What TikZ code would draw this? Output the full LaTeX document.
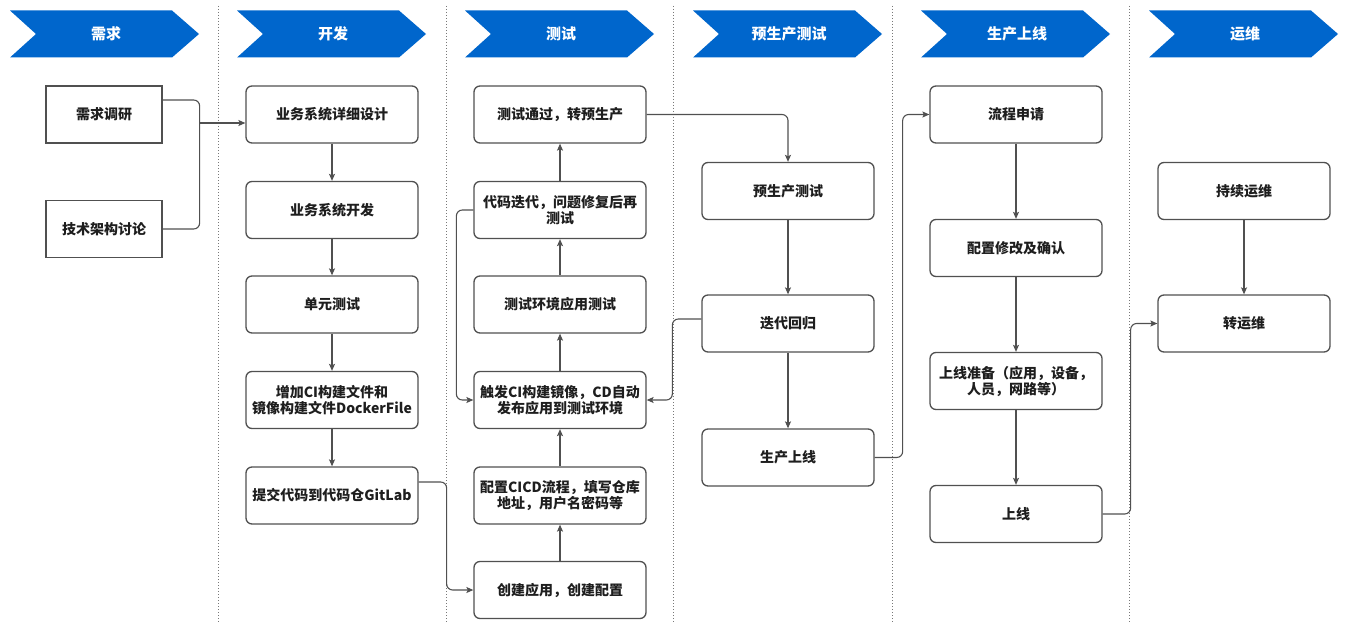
\documentclass[tikz,border=0pt]{standalone}
\usepackage{fontspec}
\setmainfont{Noto Sans CJK SC}
\usetikzlibrary{arrows.meta}

\definecolor{chev}{RGB}{0,102,204}
\definecolor{edge}{RGB}{80,80,80}
\definecolor{sep}{RGB}{120,120,120}
\definecolor{ink}{RGB}{30,30,30}

\tikzset{
  box/.style={draw=edge, line width=1.3pt, rounded corners=6pt,
    minimum width=172pt, minimum height=57pt, align=center,
    font=\fontsize{14}{16}\selectfont\bfseries, text=ink, inner sep=2pt},
  sqbox/.style={box, rounded corners=0pt, minimum width=116pt},
  conn/.style={draw=edge, line width=1.1pt, rounded corners=6pt},
  arr/.style={conn, -{Stealth[length=7pt,width=6pt,inset=1.5pt]}},
  sepline/.style={draw=sep, line width=1pt, dash pattern=on 1pt off 2pt},
  phase/.style={text=white, font=\fontsize{15}{17}\selectfont\bfseries},
}

\begin{document}
\begin{tikzpicture}[x=1pt, y=-1pt]
\useasboundingbox[fill=white] (0,0) rectangle (1364,623);

% column separators
\foreach \sx in {218,446,673,892,1129}
  \draw[sepline] (\sx,6) -- (\sx,623);

% phase chevrons
\foreach \cx/\lbl/\nm in {10/需求/ph1, 237/开发/ph2, 465/测试/ph3,
                          693/预生产测试/ph4, 921/生产上线/ph5, 1149/运维/ph6} {
  \fill[chev] (\cx,10.5) -- ++(162,0) -- ++(27,23.5) -- ++(-27,23.5)
              -- ++(-162,0) -- ++(26,-23.5) -- cycle;
  \node[phase] (\nm) at (\cx+96,34) {\lbl};
}

% requirements
\node[sqbox] (req)  at (104,114.5) {需求调研};
\node[sqbox] (tech) at (104,229)   {技术架构讨论};

% development
\node[box] (design) at (332,114.5) {业务系统详细设计};
\node[box] (devel)  at (332,210)   {业务系统开发};
\node[box] (unit)   at (332,304.5) {单元测试};
\node[box] (cifile) at (332,400)   {增加CI构建文件和\\镜像构建文件DockerFile};
\node[box] (commit) at (332,495.5) {提交代码到代码仓GitLab};

% testing
\node[box] (pass)    at (560,114.5) {测试通过，转预生产};
\node[box] (iter)    at (560,210)   {代码迭代，问题修复后再\\测试};
\node[box] (envtest) at (560,304.5) {测试环境应用测试};
\node[box] (trigger) at (560,400)   {触发CI构建镜像，CD自动\\发布应用到测试环境};
\node[box] (cicd)    at (560,495.5) {配置CICD流程，填写仓库\\地址，用户名密码等};
\node[box] (create)  at (560,590)   {创建应用，创建配置};

% pre-production
\node[box] (pretest) at (788,191)   {预生产测试};
\node[box] (regress) at (788,323.5) {迭代回归};
\node[box] (golive)  at (788,457.5) {生产上线};

% production release
\node[box] (apply)   at (1016,114.5) {流程申请};
\node[box] (confirm) at (1016,248)   {配置修改及确认};
\node[box] (prep)    at (1016,381)   {上线准备（应用，设备，\\人员，网路等）};
\node[box] (online)  at (1016,514)   {上线};

% operations
\node[box] (keepops) at (1244,191)   {持续运维};
\node[box] (toops)   at (1244,323.5) {转运维};

% requirements merge into design
\coordinate (jn) at (199,123);
\draw[conn] ([yshift=14.5pt]req.east) -- ++(37,0) |- (tech.east);
\draw[arr] (jn) -- ([yshift=-8.5pt]design.west);

% development chain
\draw[arr] (design) -- (devel);
\draw[arr] (devel) -- (unit);
\draw[arr] (unit) -- (cifile);
\draw[arr] (cifile) -- (commit);
\draw[arr] ([yshift=13.5pt]commit.east) -- ++(28,0) |- (create.west);

% testing chain (upwards)
\draw[arr] (create) -- (cicd);
\draw[arr] (cicd) -- (trigger);
\draw[arr] (trigger) -- (envtest);
\draw[arr] (envtest) -- (iter);
\draw[arr] (iter) -- (pass);
\draw[arr] (iter.west) -- ++(-17,0) |- (trigger.west);

% pre-production
\draw[arr] (pass.east) -| (pretest.north);
\draw[arr] (pretest) -- (regress);
\draw[arr] (regress) -- (golive);
\draw[arr] ([yshift=4.5pt]regress.west) -- ++(-29,0) |- (trigger.east);

% production release
\draw[arr] (golive.east) -- ++(28,0) |- (apply.west);
\draw[arr] (apply) -- (confirm);
\draw[arr] (confirm) -- (prep);
\draw[arr] (prep) -- (online);

% operations
\draw[arr] (online.east) -- ++(28,0) |- (toops.west);
\draw[arr] (keepops) -- (toops);
\end{tikzpicture}
\end{document}
